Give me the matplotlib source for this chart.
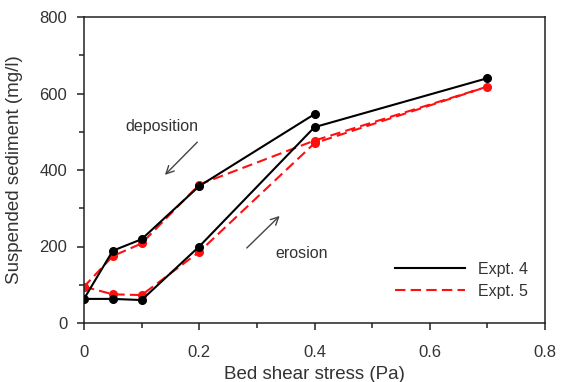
import matplotlib
matplotlib.use("Agg")
import matplotlib.pyplot as plt

plt.rcParams['font.family'] = ['Liberation Sans', 'DejaVu Sans']

# Expt. 4: deposition leg (0.4 -> 0) then erosion leg (0 -> 0.7)
stress_4 = [0.4, 0.2, 0.1, 0.05, 0.0, 0.05, 0.1, 0.2, 0.4, 0.7]
sed_4 = [546, 358, 219, 189, 63, 63, 60, 200, 512, 640]

# Expt. 5: erosion leg then back down
stress_5 = [0.0, 0.05, 0.1, 0.2, 0.4, 0.7, 0.4, 0.2, 0.1, 0.05, 0.0]
sed_5 = [95, 75, 73, 186, 470, 618, 477, 362, 208, 175, 95]

labels = ["Expt. 4", "Expt. 5"]
TXT = "#333333"

fig = plt.figure(figsize=(5.65, 3.82), dpi=100)
ax = fig.add_axes([84 / 565, 1 - 323 / 382, 461 / 565, 306 / 382])

ax.plot(stress_4, sed_4, color="black", lw=1.5, marker="o", ms=5.5,
        label=labels[0], zorder=3)
ax.plot(stress_5, sed_5, color="#ff1010", lw=1.5, ls=(0, (5, 2.5)),
        marker="o", ms=5.5, label=labels[1], zorder=2)

ax.set_xlim(0, 0.8)
ax.set_ylim(0, 800)
ax.set_xticks([0, 0.2, 0.4, 0.6, 0.8])
ax.set_xticklabels(["0", "0.2", "0.4", "0.6", "0.8"])
ax.set_xticks([0.1, 0.3, 0.5, 0.7], minor=True)
ax.set_yticks([0, 200, 400, 600, 800])
ax.set_yticks([100, 300, 500, 700], minor=True)

for s in ax.spines.values():
    s.set_linewidth(1.1)
    s.set_color("#222222")
ax.tick_params(which="major", direction="out", length=5, width=1.1,
               labelsize=12, labelcolor=TXT, color="#222222", pad=7)
ax.tick_params(axis="x", which="major", pad=11)
ax.tick_params(which="minor", direction="out", length=3.5, width=1.1,
               color="#222222")

ax.set_xlabel("Bed shear stress (Pa)", fontsize=13.5, color=TXT, labelpad=4)
ax.set_ylabel("Suspended sediment (mg/l)", fontsize=13.5, color=TXT, labelpad=12)

ax.annotate("", xy=(0.137, 382), xytext=(0.2, 478),
            arrowprops=dict(arrowstyle="->", color="#444444", lw=1.0,
                            mutation_scale=14))
ax.text(0.135, 515, "deposition", fontsize=11.5, color=TXT,
        ha="center", va="center")
ax.annotate("", xy=(0.343, 285), xytext=(0.279, 191),
            arrowprops=dict(arrowstyle="->", color="#444444", lw=1.0,
                            mutation_scale=14))
ax.text(0.378, 183, "erosion", fontsize=11.5, color=TXT,
        ha="center", va="center")

leg = ax.legend(loc="upper left", bbox_to_anchor=(0.6746, 0.2), frameon=False,
                fontsize=11.5, handlelength=4.4, handletextpad=0.8,
                borderpad=0, borderaxespad=0, labelspacing=0.45)
for t in leg.get_texts():
    t.set_color(TXT)
for h in leg.legend_handles:
    h.set_marker("")

fig.savefig("out.png", dpi=100)
